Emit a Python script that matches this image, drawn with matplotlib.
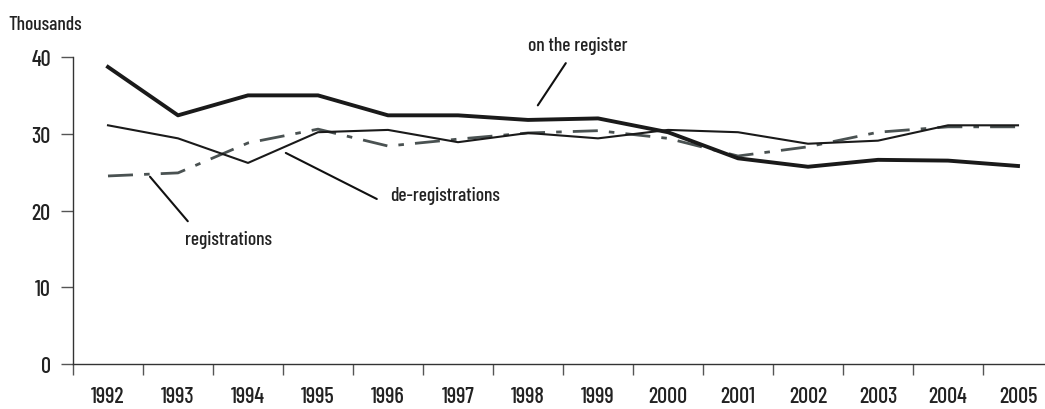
import matplotlib.pyplot as plt
import numpy as np

plt.rcParams['font.family'] = ['Barlow Condensed', 'DejaVu Sans']
plt.rcParams['font.weight'] = 'medium'

anios = [1992, 1993, 1994, 1995, 1996, 1997, 1998, 1999, 2000, 2001, 2002, 2003, 2004, 2005]
en_registro = [38.7, 32.4, 35.0, 35.0, 32.4, 32.4, 31.8, 32.0, 30.2, 26.8, 25.7, 26.6, 26.5, 25.8]
bajas = [31.1, 29.4, 26.2, 30.2, 30.5, 28.9, 30.1, 29.4, 30.5, 30.2, 28.7, 29.1, 31.1, 31.1]
altas = [24.5, 24.9, 28.8, 30.6, 28.4, 29.3, 30.1, 30.4, 29.4, 27.1, 28.3, 30.2, 30.9, 30.9]

fig = plt.figure(figsize=(10.45, 4.1), dpi=100)
ax = fig.add_axes([73/1045, 1-365/410, 1-73/1045, (365-58)/410])

x = np.array(anios)
ax.plot(x, altas, color='#4a5252', lw=2.0, dashes=(9, 4, 2, 4))
ax.plot(x, bajas, color='#1a1a1a', lw=1.5)
ax.plot(x, en_registro, color='#1a1a1a', lw=2.8)

ax.set_xlim(1991.5, 1991.5 + (1045-73)/70)
ax.set_ylim(0, 40)
ax.spines['top'].set_visible(False)
ax.spines['right'].set_visible(False)
for s in ['left', 'bottom']:
    ax.spines[s].set_color('#333333')
    ax.spines[s].set_linewidth(1.0)

ax.set_yticks([0, 10, 20, 30, 40])
ax.tick_params(axis='y', length=9, width=1, color='#555555', labelsize=16, pad=7)
ax.set_xticks(x)
ax.set_xticklabels([str(a) for a in anios])
ax.set_xticks(np.arange(1991.5, 2005.0, 1.0), minor=True)
ax.tick_params(axis='x', which='major', length=0, labelsize=16, pad=16)
ax.tick_params(axis='x', which='minor', length=8, width=1, color='#555555', direction='out')
for lab in ax.get_xticklabels() + ax.get_yticklabels():
    lab.set_color('#222222')

fig.text(8/1045, 1-25/410, 'Thousands', fontsize=14, color='#222222', va='center')

# etiquetas de las series y sus rayas
linea = dict(arrowstyle='-', color='#111111', lw=1.5, shrinkA=0, shrinkB=0)
ax.annotate('', xy=(1998.14, 33.7), xytext=(1998.54, 39.2), arrowprops=linea)
ax.text(1998.71, 41.6, 'on the register', fontsize=14, color='#222222',
        ha='center', va='center', clip_on=False)
ax.annotate('', xy=(1994.54, 27.5), xytext=(1995.84, 21.5), arrowprops=linea)
ax.text(1996.03, 22.0, 'de-registrations', fontsize=14, color='#222222',
        ha='left', va='center')
ax.annotate('', xy=(1992.6, 24.4), xytext=(1993.14, 18.6), arrowprops=linea)
ax.text(1993.1, 16.3, 'registrations', fontsize=14, color='#222222',
        ha='left', va='center')

fig.savefig('out.png', dpi=100)
